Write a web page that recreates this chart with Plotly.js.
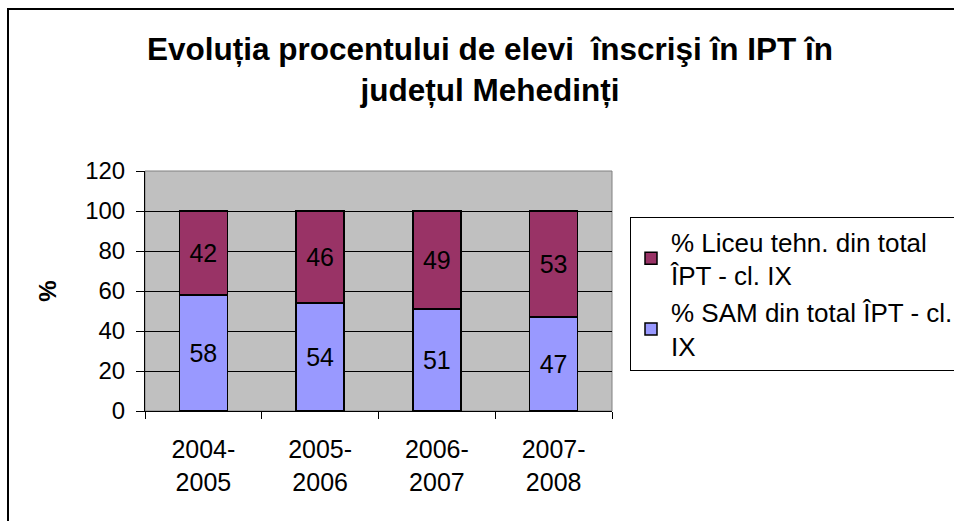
<!DOCTYPE html>
<html>
<head>
<meta charset="utf-8">
<script src="https://cdn.plot.ly/plotly-3.0.1.min.js"></script>
<style>
html,body{margin:0;padding:0;background:#fff;overflow:hidden;}
#wrap{position:relative;width:954px;height:521px;}
#chart{width:954px;height:521px;}
#frame{position:absolute;left:7px;top:8px;width:1000px;height:600px;border-left:2px solid #000;border-top:2px solid #000;pointer-events:none;}
</style>
</head>
<body>
<div id="wrap"><div id="chart"></div><div id="frame"></div></div>
<script>
const categories = ["2004-<br>2005", "2005-<br>2006", "2006-<br>2007", "2007-<br>2008"];
const samValues = [58, 54, 51, 47];
const liceuValues = [42, 46, 49, 53];
const samName = "% SAM din total ÎPT - cl.<br>IX";
const liceuName = "% Liceu tehn. din total<br>ÎPT - cl. IX";
const yTicks = [0, 20, 40, 60, 80, 100, 120];

const FONT = '"Liberation Sans", Arial, sans-serif';

const common = {
  type: 'bar',
  x: categories,
  width: 0.41,
  textposition: 'inside',
  insidetextanchor: 'middle',
  constraintext: 'none',
  texttemplate: '%{y}',
  textfont: {family: FONT, size: 25, color: '#000'},
  hoverinfo: 'skip'
};

const traces = [
  Object.assign({}, common, {
    y: samValues, name: samName,
    marker: {color: '#9999FF', line: {color: '#000', width: 1.5}}
  }),
  Object.assign({}, common, {
    y: liceuValues, name: liceuName,
    marker: {color: '#993366', line: {color: '#000', width: 1.5}}
  })
];

const L = 145, R = 342, T = 171, B = 110;
const W = 954, H = 521;
const pw = W - L - R, ph = H - T - B;
const px = v => (v - L) / pw;
const py = v => (H - B - v) / ph;

const layout = {
  width: W, height: H,
  margin: {l: L, r: R, t: T, b: B, autoexpand: false},
  paper_bgcolor: '#fff',
  plot_bgcolor: '#C0C0C0',
  barmode: 'stack',
  font: {family: FONT, size: 24, color: '#000'},
  title: {
    text: 'Evoluția procentului de elevi \u00a0înscrişi în IPT în<br>județul Mehedinți',
    font: {family: FONT, size: 31.5, color: '#000', weight: 'bold'},
    xref: 'container', x: 490 / W, xanchor: 'center',
    yref: 'container', y: 1 - 60 / H, yanchor: 'top'
  },
  xaxis: {
    type: 'category',
    tickson: 'boundaries',
    ticks: 'outside', ticklen: 7, tickcolor: '#000', tickwidth: 1,
    ticklabelstandoff: 16,
    showgrid: false,
    showline: true, linecolor: '#000', linewidth: 1,
    tickfont: {family: FONT, size: 25, color: '#000'},
    fixedrange: true
  },
  yaxis: {
    range: [0, 120],
    tickvals: yTicks,
    ticks: 'outside', ticklen: 8, tickcolor: '#000', tickwidth: 1,
    ticklabelstandoff: 6,
    showgrid: true, gridcolor: '#000', gridwidth: 1,
    zeroline: false,
    showline: true, linecolor: '#000', linewidth: 1,
    tickfont: {family: FONT, size: 24, color: '#000'},
    title: {text: '%', font: {family: FONT, size: 24, color: '#000', weight: 'bold'}, standoff: 21},
    fixedrange: true
  },
  showlegend: true,
  legend: {
    x: px(630), xanchor: 'left',
    y: py(217), yanchor: 'top',
    bgcolor: '#fff',
    bordercolor: '#000', borderwidth: 1,
    traceorder: 'reversed',
    font: {family: FONT, size: 26, color: '#000'},
    tracegroupgap: 0
  },
  shapes: [
    {type: 'rect', xref: 'paper', yref: 'paper', x0: 0, x1: 1, y0: 0, y1: 1,
     line: {color: '#808080', width: 1}, layer: 'below'}
  ]
};

Plotly.newPlot('chart', traces, layout, {displayModeBar: false, staticPlot: true});
</script>
</body>
</html>
